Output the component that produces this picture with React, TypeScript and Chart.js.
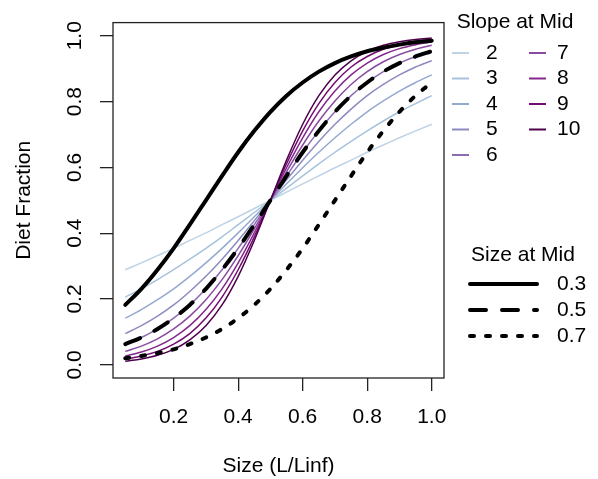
import React, { useEffect, useRef } from "react";
import { Chart, registerables } from "chart.js";

Chart.register(...registerables);

const FONT = '"Liberation Sans", Arial, Helvetica, sans-serif';
const FONT_SIZE = 21;

// Sizes along x (L/Linf)
const xValues = [0.05, 0.1, 0.15, 0.2, 0.25, 0.3, 0.35, 0.4, 0.45, 0.5, 0.55, 0.6, 0.65, 0.7, 0.75, 0.8, 0.85, 0.9, 0.95, 1.0];

// Thin curves: mid = 0.5, slope 2..10
const slope2 = [0.289, 0.31, 0.332, 0.354, 0.378, 0.401, 0.426, 0.45, 0.475, 0.5, 0.525, 0.55, 0.574, 0.599, 0.622, 0.646, 0.668, 0.69, 0.711, 0.731];
const slope3 = [0.206, 0.231, 0.259, 0.289, 0.321, 0.354, 0.389, 0.426, 0.463, 0.5, 0.537, 0.574, 0.611, 0.646, 0.679, 0.711, 0.741, 0.769, 0.794, 0.818];
const slope4 = [0.142, 0.168, 0.198, 0.231, 0.269, 0.31, 0.354, 0.401, 0.45, 0.5, 0.55, 0.599, 0.646, 0.69, 0.731, 0.769, 0.802, 0.832, 0.858, 0.881];
const slope5 = [0.095, 0.119, 0.148, 0.182, 0.223, 0.269, 0.321, 0.378, 0.438, 0.5, 0.562, 0.622, 0.679, 0.731, 0.777, 0.818, 0.852, 0.881, 0.905, 0.924];
const slope6 = [0.063, 0.083, 0.109, 0.142, 0.182, 0.231, 0.289, 0.354, 0.426, 0.5, 0.574, 0.646, 0.711, 0.769, 0.818, 0.858, 0.891, 0.917, 0.937, 0.953];
const slope7 = [0.041, 0.057, 0.079, 0.109, 0.148, 0.198, 0.259, 0.332, 0.413, 0.5, 0.587, 0.668, 0.741, 0.802, 0.852, 0.891, 0.921, 0.943, 0.959, 0.971];
const slope8 = [0.027, 0.039, 0.057, 0.083, 0.119, 0.168, 0.231, 0.31, 0.401, 0.5, 0.599, 0.69, 0.769, 0.832, 0.881, 0.917, 0.943, 0.961, 0.973, 0.982];
const slope9 = [0.017, 0.027, 0.041, 0.063, 0.095, 0.142, 0.206, 0.289, 0.389, 0.5, 0.611, 0.711, 0.794, 0.858, 0.905, 0.937, 0.959, 0.973, 0.983, 0.989];
const slope10 = [0.011, 0.018, 0.029, 0.047, 0.076, 0.119, 0.182, 0.269, 0.378, 0.5, 0.622, 0.731, 0.818, 0.881, 0.924, 0.953, 0.971, 0.982, 0.989, 0.993];

// Bold curves: size at mid 0.3 / 0.5 / 0.7
const mid03 = [0.182, 0.231, 0.289, 0.354, 0.426, 0.5, 0.574, 0.646, 0.711, 0.769, 0.818, 0.858, 0.891, 0.917, 0.937, 0.953, 0.964, 0.973, 0.98, 0.985];
const mid05 = [0.063, 0.083, 0.109, 0.142, 0.182, 0.231, 0.289, 0.354, 0.426, 0.5, 0.574, 0.646, 0.711, 0.769, 0.818, 0.858, 0.891, 0.917, 0.937, 0.953];
const mid07 = [0.02, 0.027, 0.036, 0.047, 0.063, 0.083, 0.109, 0.142, 0.182, 0.231, 0.289, 0.354, 0.426, 0.5, 0.574, 0.646, 0.711, 0.769, 0.818, 0.858];

const slopeSeries = [slope2, slope3, slope4, slope5, slope6, slope7, slope8, slope9, slope10];
const slopeLabels = ["2", "3", "4", "5", "6", "7", "8", "9", "10"];
const slopeColors = ["#BFD3E6", "#A6C2DD", "#95A9D0", "#8C8BC1", "#8C6BB1", "#894BA2", "#84288C", "#740B70", "#4D004B"];

const midSeries = [mid03, mid05, mid07];
const midLabels = ["0.3", "0.5", "0.7"];
const midDashes = [[], [16, 16], [4, 12]];

const xTicks = [0.2, 0.4, 0.6, 0.8, 1.0];
const yTicks = [0.0, 0.2, 0.4, 0.6, 0.8, 1.0];

const toPoints = (ys: number[]) => ys.map((y, i) => ({ x: xValues[i], y }));

const boxAndLegend = {
  id: "boxAndLegend",
  afterDatasetsDraw(chart: any) {
    const { ctx, chartArea: a } = chart;
    const ds = chart.data.datasets;
    ctx.save();
    ctx.strokeStyle = "#222";
    ctx.lineWidth = 1.3;
    ctx.setLineDash([]);
    ctx.strokeRect(a.left, a.top, a.right - a.left, a.bottom - a.top);

    ctx.font = `${FONT_SIZE}px ${FONT}`;
    ctx.fillStyle = "#000";
    ctx.textBaseline = "middle";

    // Legend 1: slopes
    ctx.textAlign = "center";
    ctx.fillText("Slope at Mid", 515, 22);
    ctx.textAlign = "left";
    slopeLabels.forEach((lab, i) => {
      const d = ds.find((s: any) => s.label === `slope ${lab}`);
      const col = i < 5 ? 0 : 1;
      const row = i < 5 ? i : i - 5;
      const y = 53 + row * 25.5;
      const x0 = col === 0 ? 452 : 529;
      ctx.strokeStyle = d.borderColor;
      ctx.lineWidth = 2;
      ctx.beginPath();
      ctx.moveTo(x0, y);
      ctx.lineTo(x0 + 17, y);
      ctx.stroke();
      ctx.fillText(lab, col === 0 ? 486 : 557, y);
    });

    // Legend 2: size at mid
    ctx.textAlign = "center";
    ctx.fillText("Size at Mid", 523, 255);
    ctx.textAlign = "left";
    midLabels.forEach((lab, i) => {
      const d = ds.find((s: any) => s.label === `mid ${lab}`);
      const y = 284 + i * 26;
      ctx.strokeStyle = d.borderColor;
      ctx.lineWidth = d.borderWidth;
      ctx.lineCap = "round";
      ctx.setLineDash(d.borderDash);
      ctx.beginPath();
      ctx.moveTo(470, y);
      ctx.lineTo(537, y);
      ctx.stroke();
      ctx.setLineDash([]);
      ctx.fillText(lab, 557, y);
    });
    ctx.restore();
  },
};

export default function App() {
  const ref = useRef<HTMLCanvasElement | null>(null);

  useEffect(() => {
    if (!ref.current) return;
    const thin = slopeSeries.map((ys, i) => ({
      label: `slope ${slopeLabels[i]}`,
      data: toPoints(ys),
      borderColor: slopeColors[i],
      borderWidth: 1.5,
      pointRadius: 0,
      cubicInterpolationMode: "monotone" as const,
      order: 20 - i,
    }));
    const bold = midSeries.map((ys, i) => ({
      label: `mid ${midLabels[i]}`,
      data: toPoints(ys),
      borderColor: "#000",
      borderWidth: 4,
      borderDash: midDashes[i],
      borderCapStyle: "round" as const,
      borderJoinStyle: "round" as const,
      pointRadius: 0,
      cubicInterpolationMode: "monotone" as const,
      order: 3 - i,
    }));

    const chart = new Chart(ref.current, {
      type: "line",
      data: { datasets: [...thin, ...bold] as any },
      plugins: [boxAndLegend],
      options: {
        animation: false,
        responsive: false,
        devicePixelRatio: 1,
        layout: { padding: { left: 0, top: 22, right: 154, bottom: 0 } },
        plugins: { legend: { display: false }, tooltip: { enabled: false } },
        font: { family: FONT, size: FONT_SIZE },
        scales: {
          x: {
            type: "linear",
            position: "bottom",
            min: 0.012,
            max: 1.038,
            afterBuildTicks: (s: any) => {
              s.ticks = xTicks.map((v) => ({ value: v }));
            },
            afterFit: (s: any) => {
              s.height = 101;
            },
            ticks: {
              autoSkip: false,
              maxRotation: 0,
              minRotation: 0,
              padding: 14,
              color: "#000",
              font: { family: FONT, size: FONT_SIZE },
              callback: (v: any) => Number(v).toFixed(1),
            },
            grid: { drawOnChartArea: false, drawTicks: true, tickLength: 13, color: "#222", lineWidth: 1.3 },
            border: { display: false },
            title: {
              display: true,
              text: "Size (L/Linf)",
              color: "#000",
              font: { family: FONT, size: FONT_SIZE },
              padding: { top: 0, bottom: 0 },
            },
          },
          y: {
            type: "linear",
            position: "left",
            min: -0.04,
            max: 1.04,
            afterBuildTicks: (s: any) => {
              s.ticks = yTicks.map((v) => ({ value: v }));
            },
            afterFit: (s: any) => {
              s.width = 113;
            },
            ticks: {
              autoSkip: false,
              minRotation: 90,
              maxRotation: 90,
              crossAlign: "center",
              padding: 10,
              color: "#000",
              font: { family: FONT, size: FONT_SIZE },
              callback: (v: any) => Number(v).toFixed(1),
            },
            grid: { drawOnChartArea: false, drawTicks: true, tickLength: 13, color: "#222", lineWidth: 1.3 },
            border: { display: false },
            title: {
              display: true,
              text: "Diet Fraction",
              color: "#000",
              font: { family: FONT, size: FONT_SIZE },
              padding: { top: 12, bottom: 0 },
            },
          },
        },
      } as any,
    });
    return () => chart.destroy();
  }, []);

  return (
    <div style={{ position: "fixed", left: 0, top: 0, width: 598, height: 479, background: "#fff" }}>
      <canvas ref={ref} width={598} height={479} style={{ display: "block", width: 598, height: 479 }} />
    </div>
  );
}
